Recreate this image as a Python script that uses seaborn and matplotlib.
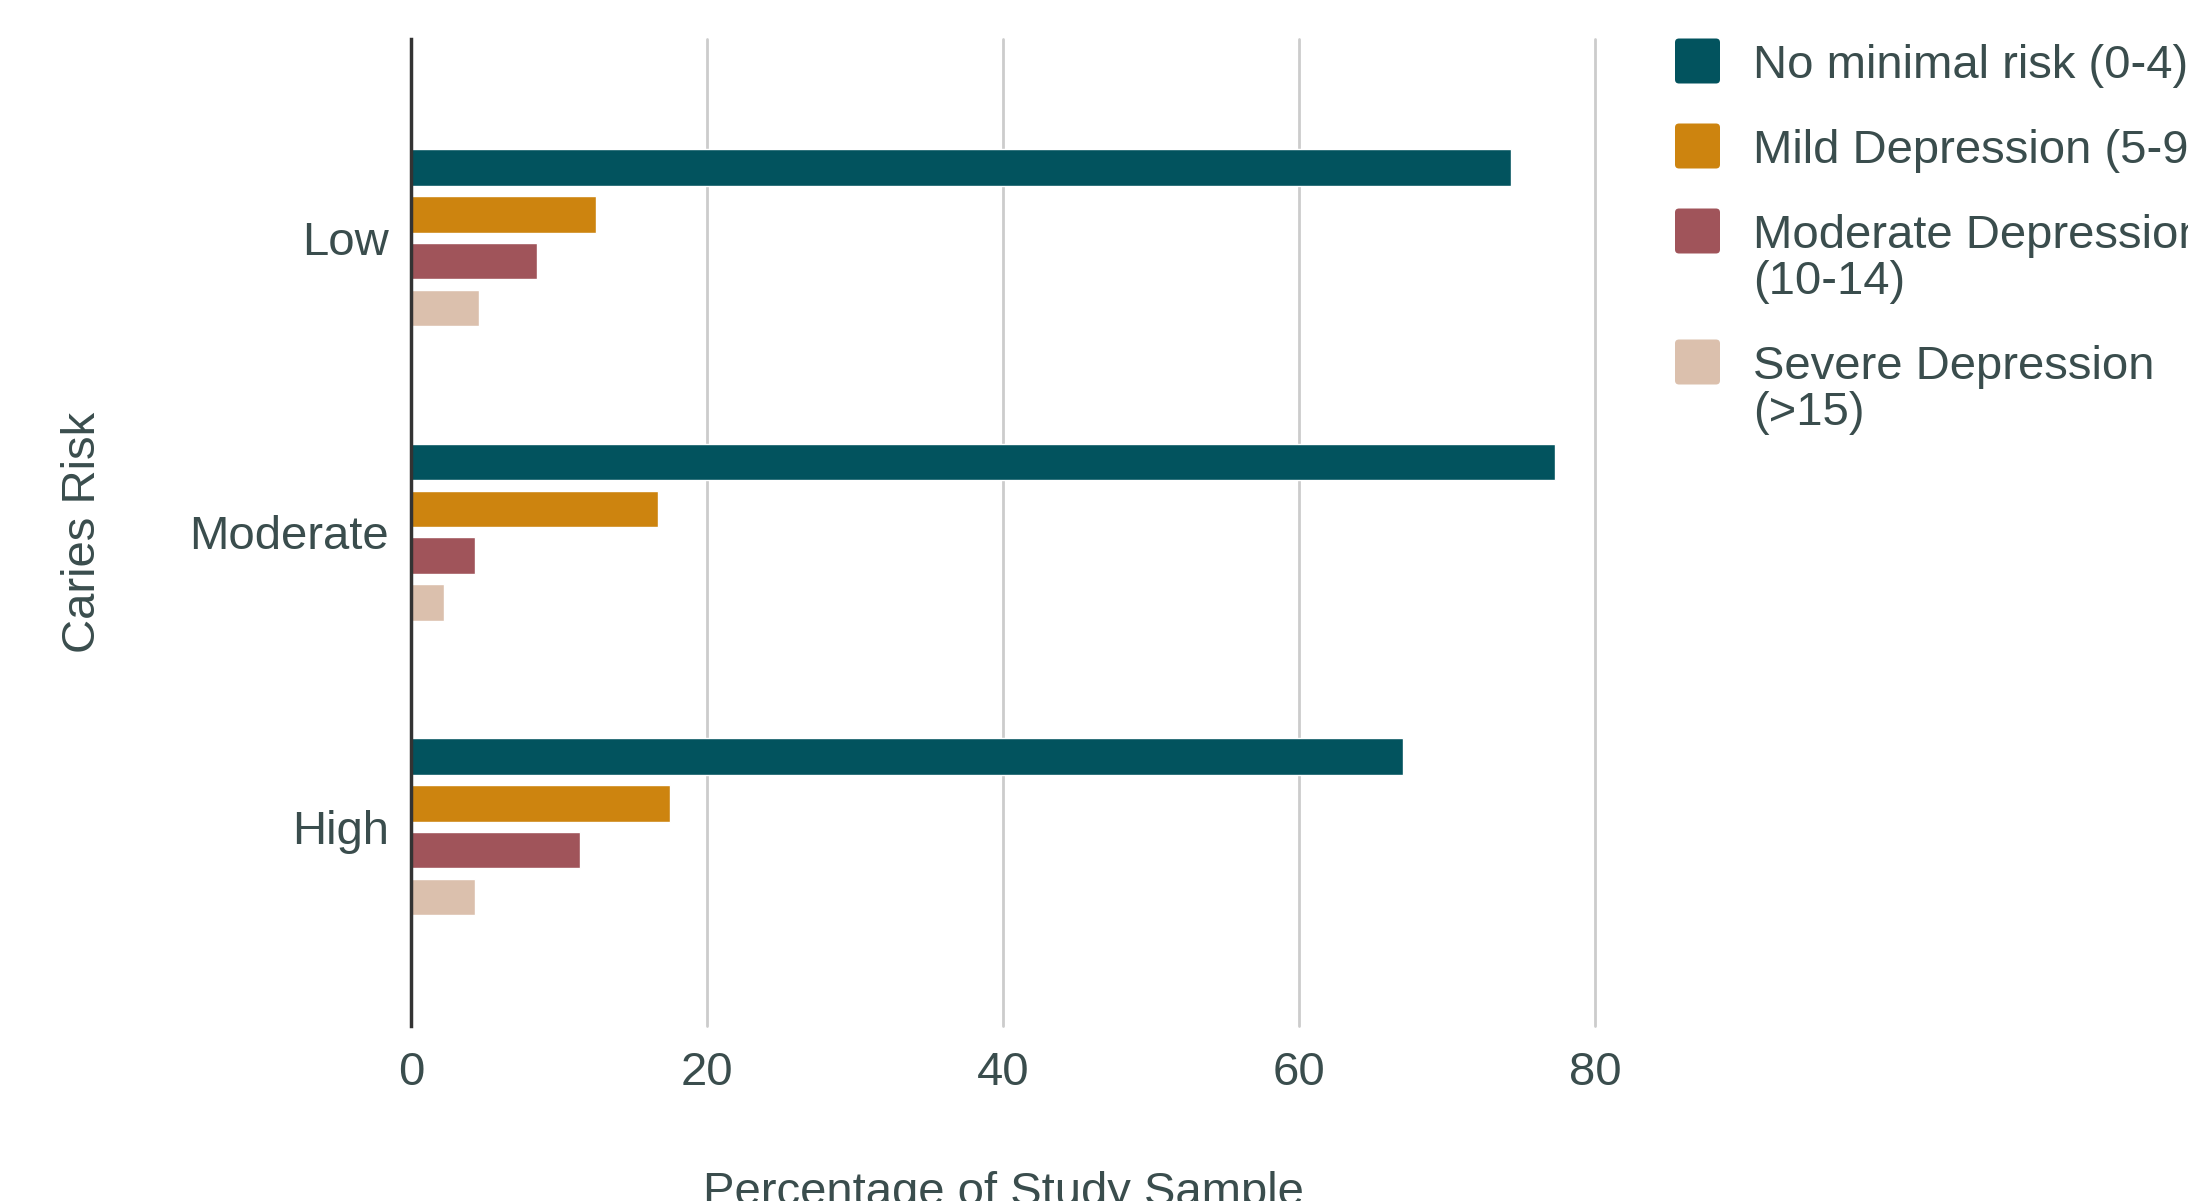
import pandas as pd
import seaborn as sns
import matplotlib.pyplot as plt
from matplotlib.patches import FancyBboxPatch

# Datos (porcentaje de la muestra)
risk_levels = ['Low', 'Moderate', 'High']
groups = ['No minimal risk (0-4)', 'Mild Depression (5-9)',
          'Moderate Depression\n(10-14)', 'Severe Depression\n(>15)']
no_minimal = [74.3, 77.3, 67.0]
mild = [12.5, 16.7, 17.5]
moderate = [8.5, 4.3, 11.4]
severe = [4.6, 2.2, 4.3]
x_ticks = [0, 20, 40, 60, 80]

colors = ['#02535e', '#cd840f', '#a0545a', '#dbc0ad']
text_color = '#3a4d4d'
fs = 34

rows = []
for vals, g in zip([no_minimal, mild, moderate, severe], groups):
    for r, v in zip(risk_levels, vals):
        rows.append({'risk': r, 'group': g, 'pct': v})
df = pd.DataFrame(rows)

sns.set_style('white')
plt.rcParams['font.family'] = ['Liberation Sans', 'DejaVu Sans']

W, H = 2188, 1201
fig = plt.figure(figsize=(W / 100, H / 100), dpi=100)
ax = fig.add_axes([0.188, 0.146, 0.541, 0.8215])

sns.barplot(data=df, x='pct', y='risk', hue='group', order=risk_levels,
            hue_order=groups, palette=colors, orient='h', width=0.635,
            gap=0.22, saturation=1, ax=ax, legend=False)

ax.set_xlim(0, 80)
ax.set_ylim(2.675, -0.675)
ax.set_xticks(x_ticks)
ax.xaxis.grid(True, color='#cccccc', linewidth=2)
for gl in ax.get_xgridlines():
    gl.set_clip_on(False)
ax.set_axisbelow(True)
for s in ['top', 'right', 'bottom']:
    ax.spines[s].set_visible(False)
ax.spines['left'].set_color('#333333')
ax.spines['left'].set_linewidth(2.5)
ax.spines['left'].set_zorder(5)
ax.tick_params(axis='both', length=0, labelsize=fs, colors=text_color)
ax.tick_params(axis='y', pad=16)
ax.tick_params(axis='x', pad=18)

ax.set_xlabel('Percentage of Study Sample', fontsize=fs, color=text_color, labelpad=55)
ax.set_ylabel('Caries Risk', fontsize=fs, color=text_color)
ax.yaxis.set_label_coords(-0.259, 0.5)

# Leyenda dibujada a mano: el cuadro se alinea con la primera línea del texto
y = 61
for g, c in zip(groups, colors):
    size = 45
    box = FancyBboxPatch((1675 / 100, (H - y - size / 2) / 100), size / 100, size / 100,
                         boxstyle='round,pad=0,rounding_size=0.04',
                         transform=fig.dpi_scale_trans, facecolor=c, edgecolor='none')
    fig.patches.append(box)
    for k, line in enumerate(g.split('\n')):
        fig.text(1753 / W, 1 - (y + 46 * k) / H, line, fontsize=fs, color=text_color,
                 ha='left', va='center_baseline')
    y += 85 + 46 * g.count('\n')

plt.savefig('out.png', dpi=100)
plt.close()
